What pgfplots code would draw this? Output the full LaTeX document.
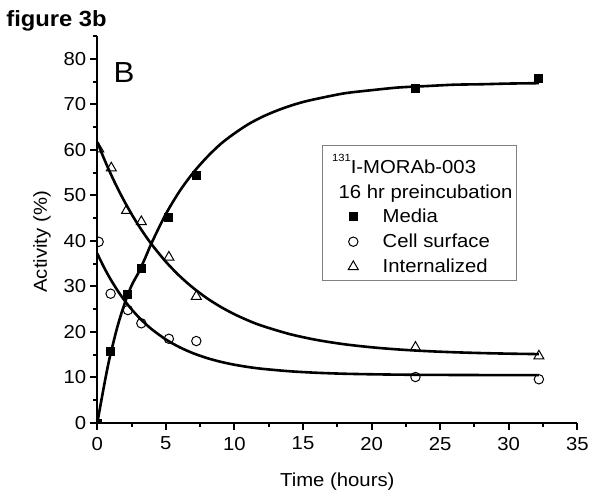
\documentclass[border=0pt]{standalone}
\usepackage{fontspec}
\setmainfont{Liberation Sans}[FakeStretch=1.08]
\usepackage{pgfplots}
\pgfplotsset{compat=1.18}
\newcommand{\tf}{\fontsize{9.4}{11}\selectfont}
\begin{document}
\begin{tikzpicture}
\useasboundingbox (-48.65pt,-37.5pt) rectangle (251.35pt,211.5pt);
\begin{axis}[
  at={(0pt,0pt)}, anchor=south west,
  scale only axis, width=240pt, height=193.5pt,
  xmin=0, xmax=35, ymin=0, ymax=85,
  axis lines=left,
  axis line style={-, line width=1pt, black},
  every outer x axis line/.append style={-},
  every outer y axis line/.append style={-},
  xtick={0,5,...,35}, ytick={0,10,...,80},
  minor xtick={2.5,7.5,...,32.5}, minor ytick={5,15,...,85},
  tick align=outside, major tick length=3.5pt, minor tick length=2pt,
  every tick/.style={black, line width=1pt},
  /pgf/number format/assume math mode=true,
  tick label style={font=\tf},
  yticklabel style={xshift=1.5pt},
  label style={font=\tf},
  xlabel={Time (hours)}, ylabel={Activity (\%)},
  xlabel style={at={(axis description cs:0.5,-0.1517)}, anchor=center},
  ylabel style={at={(axis description cs:-0.1154,0.468)}, anchor=center},
  clip marker paths=true,
  legend image code/.code={\path[draw=none,fill=none] (-7pt,0pt) -- (14.7pt,0pt); \draw[#1] plot coordinates {(0pt,0.15pt)};},
  legend cell align=left,
  legend style={draw=none, fill=none, at={(axis description cs:0.5042,0.5646)}, anchor=north west,
    inner sep=0pt, outer sep=0pt, row sep=0pt, column sep=0pt,
    nodes={inner sep=0pt, text height=9.1pt, text depth=3.4pt, font=\tf}},
]
% fitted curves
\addplot[black, line width=1.3pt, smooth, forget plot] coordinates {
 (0,0) (0.25,4.2) (0.5,8.3) (0.75,12.2) (1,15.6) (1.5,21.5) (2,26.3) (2.5,30.2) (3,33.0)
 (3.5,36.3) (4,39.8) (5,45.9) (6,50.9) (7,55.0) (8,58.4) (9,61.3) (10,63.6) (11,65.6)
 (12,67.2) (13,68.5) (14,69.6) (15,70.5) (16,71.2) (18,72.4) (20,73.1) (22,73.7)
 (24,74.0) (26,74.3) (28,74.4) (30,74.55) (32.2,74.64)};
\addplot[black, line width=1.3pt, smooth, forget plot] coordinates {
 (0,37.2) (0.5,34.12) (1,31.40) (1.5,28.99) (2,26.86) (2.5,24.97) (3,23.30) (3.5,21.83)
 (4,20.52) (5,18.34) (6,16.64) (7,15.31) (8,14.26) (9,13.44) (10,12.80) (11,12.30)
 (12,11.91) (14,11.37) (16,11.03) (18,10.82) (20,10.70) (22,10.62) (24,10.57)
 (26,10.55) (28,10.53) (30,10.52) (32.2,10.51)};
\addplot[black, line width=1.3pt, smooth, forget plot] coordinates {
 (0,61.70) (0.5,57.99) (1,54.58) (1.5,51.44) (2,48.55) (2.5,45.88) (3,43.43) (3.5,41.17)
 (4,39.09) (5,35.41) (6,32.29) (7,29.65) (8,27.40) (9,25.50) (10,23.89) (11,22.52)
 (12,21.36) (14,19.55) (16,18.24) (18,17.30) (20,16.63) (22,16.14) (24,15.79)
 (26,15.54) (28,15.36) (30,15.23) (32.2,15.13)};
% data points
\addplot[only marks, mark=square*, mark size=2pt, black] coordinates {
 (0,0) (0.97,15.8) (2.23,28.3) (3.21,33.9) (5.22,45.2) (7.22,54.3) (23.2,73.4) (32.2,75.7)};
\addplot[only marks, mark=o, mark size=2.35pt, black, mark options={line width=0.5pt}] coordinates {
 (0.1,39.8) (0.97,28.4) (2.23,24.8) (3.21,21.9) (5.22,18.5) (7.22,18.0) (23.2,10.1) (32.2,9.6)};
\addplot[only marks, mark=triangle, mark size=2.9pt, black, mark options={line width=0.5pt}] coordinates {
 (0.1,60.2) (1.02,56.0) (2.14,46.7) (3.21,44.2) (5.22,36.4) (7.22,27.8) (23.2,16.6) (32.2,14.7)};
\legend{Media, Cell surface, Internalized}
\end{axis}
\node[anchor=base west, inner sep=0pt, font=\bfseries\fontsize{11}{13}\selectfont] at (-45.65pt,198pt) {figure 3b};
\node[anchor=base west, inner sep=0pt, font=\fontsize{14.5}{17}\selectfont] at (8pt,170.15pt) {B};
\draw[black!50, line width=0.5pt] (112.7pt,71.15pt) rectangle (209.7pt,138.65pt);
\node[anchor=base west, inner sep=0pt, font=\tf] at (117.2pt,124.85pt) {\raisebox{5.8pt}{\fontsize{5.2}{6}\selectfont 131}I-MORAb-003};
\node[anchor=base west, inner sep=0pt, font=\tf] at (120.5pt,112pt) {16 hr preincubation};
\end{tikzpicture}
\end{document}
